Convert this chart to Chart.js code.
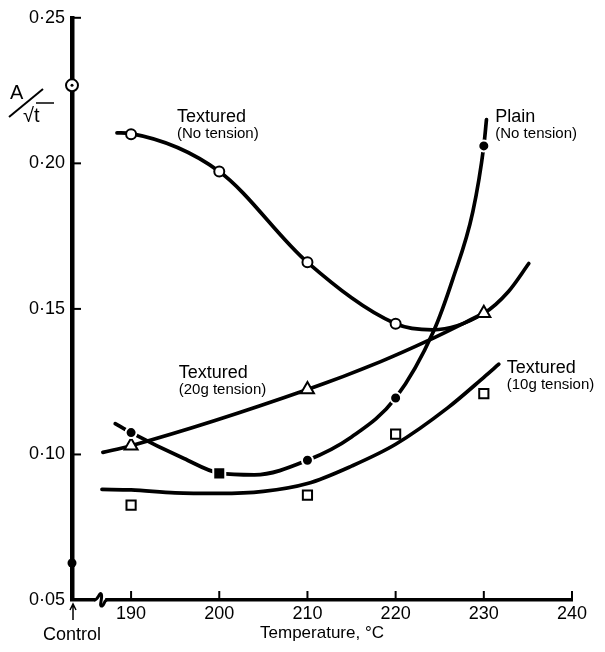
<!DOCTYPE html>
<html>
<head>
<meta charset="utf-8">
<script src="https://cdn.jsdelivr.net/npm/chart.js@4/dist/chart.umd.min.js"></script>
<style>
  html, body { margin: 0; padding: 0; background: #fff; }
  #wrap { width: 605px; height: 652px; position: relative; }
</style>
</head>
<body>
<div id="wrap"><canvas id="chart"></canvas></div>
<script>
// x position used for the "Control" samples (left end of the axis)
const controlX = 183.3;
const breakX = 186.5;

// axis ticks
const xTicks = [controlX, 190, 200, 210, 220, 230, 240];
const yTicks = [0.05, 0.10, 0.15, 0.20, 0.25];

// measured points
const tempX = [190, 200, 210, 220, 230];
const texturedNoTension = [0.2100, 0.1972, 0.1660, 0.1449, null];
const plainX = [190, 210, 220, 230];
const plainNoTension = [0.1075, 0.0980, 0.1194, 0.2060];
const plainSquareX = [200];
const plainSquare = [0.0935];
const tension20X = [190, 210, 230];
const textured20g = [0.1030, 0.1223, 0.1485];
const tension10X = [190, 210, 220, 230];
const textured10g = [0.0826, 0.0860, 0.1070, 0.1209];
const controlPlain = [0.0627];
const controlTextured = [0.2268];

// hand-drawn fitted curves
const curveNoTensionX = [188.4, 190, 200, 210, 220, 224.2, 230, 232.8, 235.1];
const curveNoTensionY = [0.2105, 0.2102, 0.1972, 0.1660, 0.1449, 0.1428, 0.1485, 0.1560, 0.1656];
const curvePlainX = [188.2, 190, 196, 200, 204, 210, 215, 220, 224.3, 226.5, 228.75, 230, 230.3];
const curvePlainY = [0.1106, 0.1075, 0.0986, 0.0936, 0.0930, 0.0980, 0.1060, 0.1194, 0.1423, 0.1604, 0.1833, 0.2060, 0.2150];
const curve20gX = [186.8, 190, 210, 218.3, 223.6, 230];
const curve20gY = [0.1007, 0.1030, 0.1223, 0.1319, 0.1390, 0.1485];
const curve10gX = [186.7, 190, 195, 200, 205, 210, 215, 220, 225.9, 230, 231.7];
const curve10gY = [0.0880, 0.0878, 0.0868, 0.0866, 0.0873, 0.0900, 0.0960, 0.1035, 0.1160, 0.1265, 0.1310];

// curve labels
const labelTexts = [
  { x: 195.2, y: 0.2141, main: 'Textured', sub: '(No tension)' },
  { x: 231.3, y: 0.2141, main: 'Plain', sub: '(No tension)' },
  { x: 195.4, y: 0.1262, main: 'Textured', sub: '(20g tension)' },
  { x: 232.6, y: 0.1280, main: 'Textured', sub: '(10g tension)' }
];

const FONT = '"Liberation Sans", Arial, sans-serif';

function pts(xs, ys) {
  return xs.map((x, i) => ({ x: x, y: ys[i] })).filter(p => p.y !== null);
}

function curve(xs, ys) {
  return {
    type: 'line',
    data: pts(xs, ys),
    borderColor: '#000',
    borderWidth: 3.7,
    borderCapStyle: 'round',
    pointRadius: 0,
    cubicInterpolationMode: 'monotone',
    fill: false,
    order: 2
  };
}

function markers(xs, ys, style, radius, filled, extra) {
  return Object.assign({
    type: 'scatter',
    data: pts(xs, ys),
    pointStyle: style,
    pointRadius: radius,
    pointBackgroundColor: filled ? '#000' : '#fff',
    pointBorderColor: filled ? '#fff' : '#000',
    pointBorderWidth: 2,
    order: 0
  }, extra || {});
}

// inward tick marks, axis break, labels
const decorPlugin = {
  id: 'decor',
  afterDatasetsDraw(chart) {
    const ctx = chart.ctx;
    const xs = chart.scales.x, ys = chart.scales.y;
    const area = chart.chartArea;
    ctx.save();
    ctx.strokeStyle = '#000';
    ctx.lineWidth = 2;
    // y ticks pointing right
    yTicks.forEach(v => {
      const py = ys.getPixelForValue(v);
      ctx.beginPath();
      ctx.moveTo(area.left, py);
      ctx.lineTo(area.left + 9, py);
      ctx.stroke();
    });
    // x ticks pointing up
    xTicks.slice(1).forEach(v => {
      const px = xs.getPixelForValue(v);
      ctx.beginPath();
      ctx.moveTo(px, area.bottom);
      ctx.lineTo(px, area.bottom - 9);
      ctx.stroke();
    });
    // arrow under the control position
    const cx = xs.getPixelForValue(controlX) + 1;
    ctx.lineWidth = 1.5;
    ctx.beginPath();
    ctx.moveTo(cx, area.bottom + 20);
    ctx.lineTo(cx, area.bottom + 5);
    ctx.moveTo(cx - 3, area.bottom + 10);
    ctx.lineTo(cx, area.bottom + 4);
    ctx.lineTo(cx + 3, area.bottom + 10);
    ctx.stroke();

    // axis break squiggle
    const bx = xs.getPixelForValue(breakX);
    const by = area.bottom;
    ctx.fillStyle = '#fff';
    ctx.fillRect(bx - 5, by - 3, 10, 6);
    ctx.lineWidth = 3;
    ctx.beginPath();
    ctx.moveTo(bx - 6, by);
    ctx.bezierCurveTo(bx - 2, by, bx - 1, by - 8, bx + 1, by - 6);
    ctx.bezierCurveTo(bx + 3, by - 3, bx - 2, by + 7, bx + 2, by + 6);
    ctx.bezierCurveTo(bx + 4, by + 5, bx + 4, by, bx + 7, by);
    ctx.stroke();

    // curve labels
    ctx.fillStyle = '#000';
    ctx.textAlign = 'left';
    ctx.textBaseline = 'alphabetic';
    labelTexts.forEach(t => {
      const px = xs.getPixelForValue(t.x);
      const py = ys.getPixelForValue(t.y);
      ctx.font = '18px ' + FONT;
      ctx.fillText(t.main, px, py);
      ctx.font = '15px ' + FONT;
      ctx.fillText(t.sub, px, py + 16);
    });

    // y axis title  A / sqrt(t)
    ctx.font = '20px ' + FONT;
    ctx.fillText('A', 10, 99);
    ctx.lineWidth = 2;
    ctx.beginPath();
    ctx.moveTo(9, 117);
    ctx.lineTo(43, 89);
    ctx.stroke();
    ctx.font = '20px ' + FONT;
    ctx.fillText('\u221At', 23, 122);
    ctx.lineWidth = 1.5;
    ctx.beginPath();
    ctx.moveTo(36, 103);
    ctx.lineTo(54, 103);
    ctx.stroke();
    ctx.restore();
  }
};

const ctx = document.getElementById('chart').getContext('2d');
new Chart(ctx, {
  data: {
    datasets: [
      markers(tempX, texturedNoTension, 'circle', 5, false),
      markers(plainX, plainNoTension, 'circle', 5.5, true),
      markers(plainSquareX, plainSquare, 'rect', 8.5, true),
      markers(tension20X, textured20g, 'triangle', 7.5, false),
      markers(tension10X, textured10g, 'rect', 6.5, false),
      markers([controlX], controlPlain, 'circle', 4.5, true, { pointBorderColor: '#000', pointBorderWidth: 0, clip: false }),
      markers([controlX], controlTextured, 'circle', 1.5, true, { pointBorderColor: '#000', pointBorderWidth: 0, clip: false, order: -1 }),
      markers([controlX], controlTextured, 'circle', 6, false, { clip: false }),
      curve(curveNoTensionX, curveNoTensionY),
      curve(curvePlainX, curvePlainY),
      curve(curve20gX, curve20gY),
      curve(curve10gX, curve10gY)
    ]
  },
  options: {
    responsive: true,
    maintainAspectRatio: false,
    animation: false,
    layout: { padding: { top: 15, right: 33, left: 0, bottom: 0 } },
    plugins: {
      legend: { display: false },
      tooltip: { enabled: false }
    },
    scales: {
      x: {
        type: 'linear',
        min: controlX,
        max: 240,
        afterBuildTicks: function(scale) {
          scale.ticks = xTicks.map(v => ({ value: v }));
        },
        afterFit: function(scale) { scale.height = 52; },
        grid: { display: false, drawTicks: false },
        border: { display: true, color: '#000', width: 3.5 },
        ticks: {
          autoSkip: false,
          maxRotation: 0,
          padding: 3,
          color: '#000',
          font: { family: FONT, size: 18 },
          callback: function(value) {
            return value === controlX ? ['', 'Control'] : String(value);
          }
        },
        title: {
          display: true,
          text: 'Temperature, \u00B0C',
          color: '#000',
          font: { family: FONT, size: 17 },
          padding: { top: 0, bottom: 8 }
        }
      },
      y: {
        type: 'linear',
        min: 0.05,
        max: 0.25,
        afterBuildTicks: function(scale) {
          scale.ticks = yTicks.map(v => ({ value: v }));
        },
        afterFit: function(scale) { scale.width = 72; },
        grid: { display: false, drawTicks: false },
        border: { display: true, color: '#000', width: 4.5 },
        ticks: {
          padding: 7,
          color: '#000',
          font: { family: FONT, size: 18 },
          callback: function(value) {
            return value.toFixed(2).replace('.', '\u00B7');
          }
        }
      }
    }
  },
  plugins: [decorPlugin]
});
</script>
</body>
</html>
